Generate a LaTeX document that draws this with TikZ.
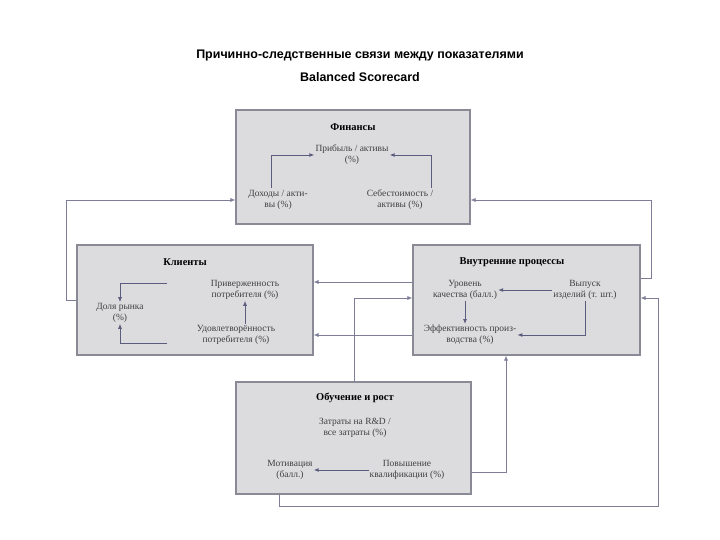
\documentclass[tikz,border=0pt]{standalone}
\usepackage{fontspec}
\setmainfont{Liberation Serif}
\newfontfamily\hd{Liberation Sans}
\usetikzlibrary{arrows.meta}
\definecolor{boxfill}{HTML}{DCDCDF}
\definecolor{boxline}{HTML}{8A8A96}
\definecolor{arr}{HTML}{5C5C7E}
\begin{document}
\begin{tikzpicture}[x=1bp,y=-1bp,
  box/.style={draw=boxline,fill=boxfill,line width=1.2pt},
  txt/.style={align=center,font=\fontsize{9.5}{11}\selectfont,inner sep=1pt,text=black!75},
  ttl/.style={font=\fontsize{10.5}{12}\selectfont\bfseries,inner sep=1pt},
  con/.style={draw=arr,line width=0.9pt,-{Latex[length=5pt,width=4pt]}},
  link/.style={draw=arr!80,line width=0.7pt,-{Latex[length=5pt,width=4pt]}}]
\useasboundingbox (0,0) rectangle (720,540);
\node[font=\hd\bfseries\fontsize{12.5}{23}\selectfont,align=center] (title) at (360,66)
  {Причинно-следственные связи между показателями\\Balanced Scorecard};
% boxes
\node[box,minimum width=234bp,minimum height=114bp] (fin) at (353,167) {};
\node[box,minimum width=236bp,minimum height=110bp] (cli) at (195,300) {};
\node[box,minimum width=227bp,minimum height=110bp] (int) at (526.5,300) {};
\node[box,minimum width=235bp,minimum height=112bp] (lrn) at (353.5,438) {};
% finance
\node[ttl] (ft) at (353,127) {Финансы};
\node[txt] (f1) at (352,155) {Прибыль / активы\\(\%)};
\node[txt] (f2) at (278,200) {Доходы / акти-\\вы (\%)};
\node[txt] (f3) at (400,200) {Себестоимость /\\активы (\%)};
\draw[con] (271,188) |- (f1.west);
\draw[con] (431,188) |- (f1.east);
% clients
\node[ttl] (ct) at (185,262) {Клиенты};
\node[txt] (c1) at (245,290) {Приверженность\\потребителя (\%)};
\node[txt] (c2) at (236,335) {Удовлетворённость\\потребителя (\%)};
\node[txt] (c3) at (120,313) {Доля рынка\\(\%)};
\coordinate (ca) at (167,283);
\coordinate (cb) at (167,343);
\draw[con] (ca) -| (c3.north);
\draw[con] (cb) -| (c3.south);
\draw[con] (c2.north -| 245,0) -- (c1.south -| 245,0);
% internal
\node[ttl] (it) at (512,262) {Внутренние процессы};
\node[txt] (i1) at (465,290) {Уровень\\качества (балл.)};
\node[txt] (i2) at (585,290) {Выпуск\\изделий (т. шт.)};
\node[txt] (i3) at (470,335) {Эффективность произ-\\водства (\%)};
\draw[con] (i2.west) -- (i1.east);
\draw[con] (i1.south) -- (i1.south |- i3.north);
\draw[con] (i2.south) |- (i3.east);
% learning
\node[ttl] (lt) at (355,398) {Обучение и рост};
\node[txt] (l1) at (355,428) {Затраты на R\&D /\\все затраты (\%)};
\node[txt] (l2) at (290,470) {Мотивация\\(балл.)};
\node[txt] (l3) at (407,470) {Повышение\\квалификации (\%)};
\draw[con] (l3.west) -- (l2.east);
% links between boxes
\draw[link] (cli.west |- 0,300) -- (66,300) |- (fin.west |- 0,200);
\draw[link] (int.east |- 0,278) -- (651,278) |- (fin.east |- 0,200);
\draw[link] (int.west |- 0,282) -- (cli.east |- 0,282);
\draw[link] (int.west |- 0,335) -- (cli.east |- 0,335);
\draw[link] (lrn.north -| 354,0) -- (354,298) -- (int.west |- 0,298);
\draw[link] (lrn.east |- 0,472) -| (int.south -| 506,0);
\draw[link] (lrn.south -| 279,0) -- (279,506) -| (658,298) -- (int.east |- 0,298);
\end{tikzpicture}
\end{document}
